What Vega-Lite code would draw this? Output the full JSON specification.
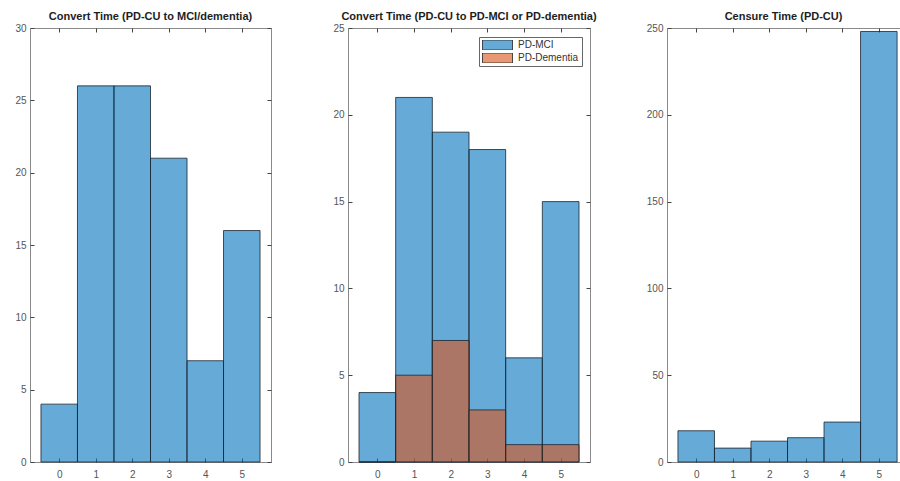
{
  "$schema": "https://vega.github.io/schema/vega-lite/v6.json",
  "background": "white",
  "padding": {"left": 14, "top": 10, "right": 0, "bottom": 0},
  "bounds": "flush",
  "spacing": 77,
  "datasets": {
    "convert_any": [
      {"lo": -0.5, "hi": 0.5, "count": 4},
      {"lo": 0.5, "hi": 1.5, "count": 26},
      {"lo": 1.5, "hi": 2.5, "count": 26},
      {"lo": 2.5, "hi": 3.5, "count": 21},
      {"lo": 3.5, "hi": 4.5, "count": 7},
      {"lo": 4.5, "hi": 5.5, "count": 16}
    ],
    "convert_split": [
      {"series": "PD-MCI", "lo": -0.5, "hi": 0.5, "count": 4},
      {"series": "PD-MCI", "lo": 0.5, "hi": 1.5, "count": 21},
      {"series": "PD-MCI", "lo": 1.5, "hi": 2.5, "count": 19},
      {"series": "PD-MCI", "lo": 2.5, "hi": 3.5, "count": 18},
      {"series": "PD-MCI", "lo": 3.5, "hi": 4.5, "count": 6},
      {"series": "PD-MCI", "lo": 4.5, "hi": 5.5, "count": 15},
      {"series": "PD-Dementia", "lo": -0.5, "hi": 0.5, "count": 0},
      {"series": "PD-Dementia", "lo": 0.5, "hi": 1.5, "count": 5},
      {"series": "PD-Dementia", "lo": 1.5, "hi": 2.5, "count": 7},
      {"series": "PD-Dementia", "lo": 2.5, "hi": 3.5, "count": 3},
      {"series": "PD-Dementia", "lo": 3.5, "hi": 4.5, "count": 1},
      {"series": "PD-Dementia", "lo": 4.5, "hi": 5.5, "count": 1}
    ],
    "censure": [
      {"lo": -0.5, "hi": 0.5, "count": 18},
      {"lo": 0.5, "hi": 1.5, "count": 8},
      {"lo": 1.5, "hi": 2.5, "count": 12},
      {"lo": 2.5, "hi": 3.5, "count": 14},
      {"lo": 3.5, "hi": 4.5, "count": 23},
      {"lo": 4.5, "hi": 5.5, "count": 248}
    ]
  },
  "hconcat": [
    {
      "width": 241,
      "height": 434,
      "title": {"text": "Convert Time (PD-CU to MCI/dementia)"},
      "data": {"name": "convert_any"},
      "layer": [
        {
          "mark": {"type": "bar", "fill": "#0072BD", "fillOpacity": 0.6, "stroke": "#1b2530", "strokeWidth": 0.8},
          "encoding": {
            "x": {"field": "lo", "type": "quantitative", "scale": {"domain": [-0.8, 5.8], "nice": false, "zero": false},
                  "axis": {"orient": "bottom", "values": [0, 1, 2, 3, 4, 5], "title": null}},
            "x2": {"field": "hi"},
            "y": {"field": "count", "type": "quantitative", "stack": null, "scale": {"domain": [0, 30], "nice": false},
                  "axis": {"orient": "left", "values": [0, 5, 10, 15, 20, 25, 30], "title": null}},
            "y2": {"datum": 0}
          }
        },
        {
          "mark": {"type": "rule", "opacity": 0},
          "encoding": {
            "x": {"field": "lo", "type": "quantitative", "axis": {"orient": "top", "values": [0, 1, 2, 3, 4, 5], "labels": false, "title": null}},
            "y": {"field": "count", "type": "quantitative", "axis": {"orient": "right", "values": [0, 5, 10, 15, 20, 25, 30], "labels": false, "title": null}}
          }
        }
      ],
      "resolve": {"axis": {"x": "independent", "y": "independent"}}
    },
    {
      "width": 242,
      "height": 434,
      "title": {"text": "Convert Time (PD-CU to PD-MCI or PD-dementia)"},
      "data": {"name": "convert_split"},
      "layer": [
        {
          "mark": {"type": "bar", "fillOpacity": 0.6, "stroke": "#1b2530", "strokeWidth": 0.8},
          "encoding": {
            "x": {"field": "lo", "type": "quantitative", "scale": {"domain": [-0.8, 5.8], "nice": false, "zero": false},
                  "axis": {"orient": "bottom", "values": [0, 1, 2, 3, 4, 5], "title": null}},
            "x2": {"field": "hi"},
            "y": {"field": "count", "type": "quantitative", "stack": null, "scale": {"domain": [0, 25], "nice": false},
                  "axis": {"orient": "left", "values": [0, 5, 10, 15, 20, 25], "title": null}},
            "y2": {"datum": 0},
            "fill": {"field": "series", "type": "nominal",
                     "scale": {"domain": ["PD-MCI", "PD-Dementia"], "range": ["#0072BD", "#D95319"]},
                     "legend": {
                       "title": null,
                       "orient": "none",
                       "legendX": 449,
                       "legendY": 9,
                       "symbolType": "M-1,-1L5,-1L5,1L-1,1Z",
                       "symbolSize": 100,
                       "symbolStrokeColor": "#222",
                       "symbolStrokeWidth": 0.8,
                       "clipHeight": 10,
                       "labelFont": "Liberation Sans",
                       "labelFontSize": 10,
                       "labelColor": "#333",
                       "labelOffset": 25,
                       "rowPadding": 3,
                       "padding": 3,
                       "strokeColor": "#666",
                       "fillColor": "white",
                       "encode": {"symbols": {"update": {"fillOpacity": {"value": 0.6}, "stroke": {"value": "#222"}}}}
                     }}
          }
        },
        {
          "mark": {"type": "rule", "opacity": 0},
          "encoding": {
            "x": {"field": "lo", "type": "quantitative", "axis": {"orient": "top", "values": [0, 1, 2, 3, 4, 5], "labels": false, "title": null}},
            "y": {"field": "count", "type": "quantitative", "axis": {"orient": "right", "values": [0, 5, 10, 15, 20, 25], "labels": false, "title": null}}
          }
        }
      ],
      "resolve": {"axis": {"x": "independent", "y": "independent"}}
    },
    {
      "width": 233,
      "height": 434,
      "title": {"text": "Censure Time (PD-CU)"},
      "data": {"name": "censure"},
      "layer": [
        {
          "mark": {"type": "bar", "fill": "#0072BD", "fillOpacity": 0.6, "stroke": "#1b2530", "strokeWidth": 0.8},
          "encoding": {
            "x": {"field": "lo", "type": "quantitative", "scale": {"domain": [-0.8, 5.58], "nice": false, "zero": false},
                  "axis": {"orient": "bottom", "values": [0, 1, 2, 3, 4, 5], "title": null}},
            "x2": {"field": "hi"},
            "y": {"field": "count", "type": "quantitative", "stack": null, "scale": {"domain": [0, 250], "nice": false},
                  "axis": {"orient": "left", "values": [0, 50, 100, 150, 200, 250], "title": null}},
            "y2": {"datum": 0}
          }
        },
        {
          "mark": {"type": "rule", "opacity": 0},
          "encoding": {
            "x": {"field": "lo", "type": "quantitative", "axis": {"orient": "top", "values": [0, 1, 2, 3, 4, 5], "labels": false, "title": null}}
          }
        }
      ],
      "resolve": {"axis": {"x": "independent"}}
    }
  ],
  "config": {
    "view": {"stroke": "#8a8a8a", "strokeWidth": 1},
    "title": {"font": "Liberation Sans", "fontSize": 11, "fontWeight": "bold", "color": "#1e1e1e", "anchor": "middle", "offset": 1},
    "axis": {
      "domain": false,
      "grid": false,
      "tickColor": "#444",
      "tickSize": -4,
      "tickWidth": 1,
      "labelPadding": 8,
      "labelFont": "Liberation Sans",
      "labelFontSize": 10,
      "labelColor": "#555"
    },
    "axisBottom": {"labelPadding": 11}
  }
}
